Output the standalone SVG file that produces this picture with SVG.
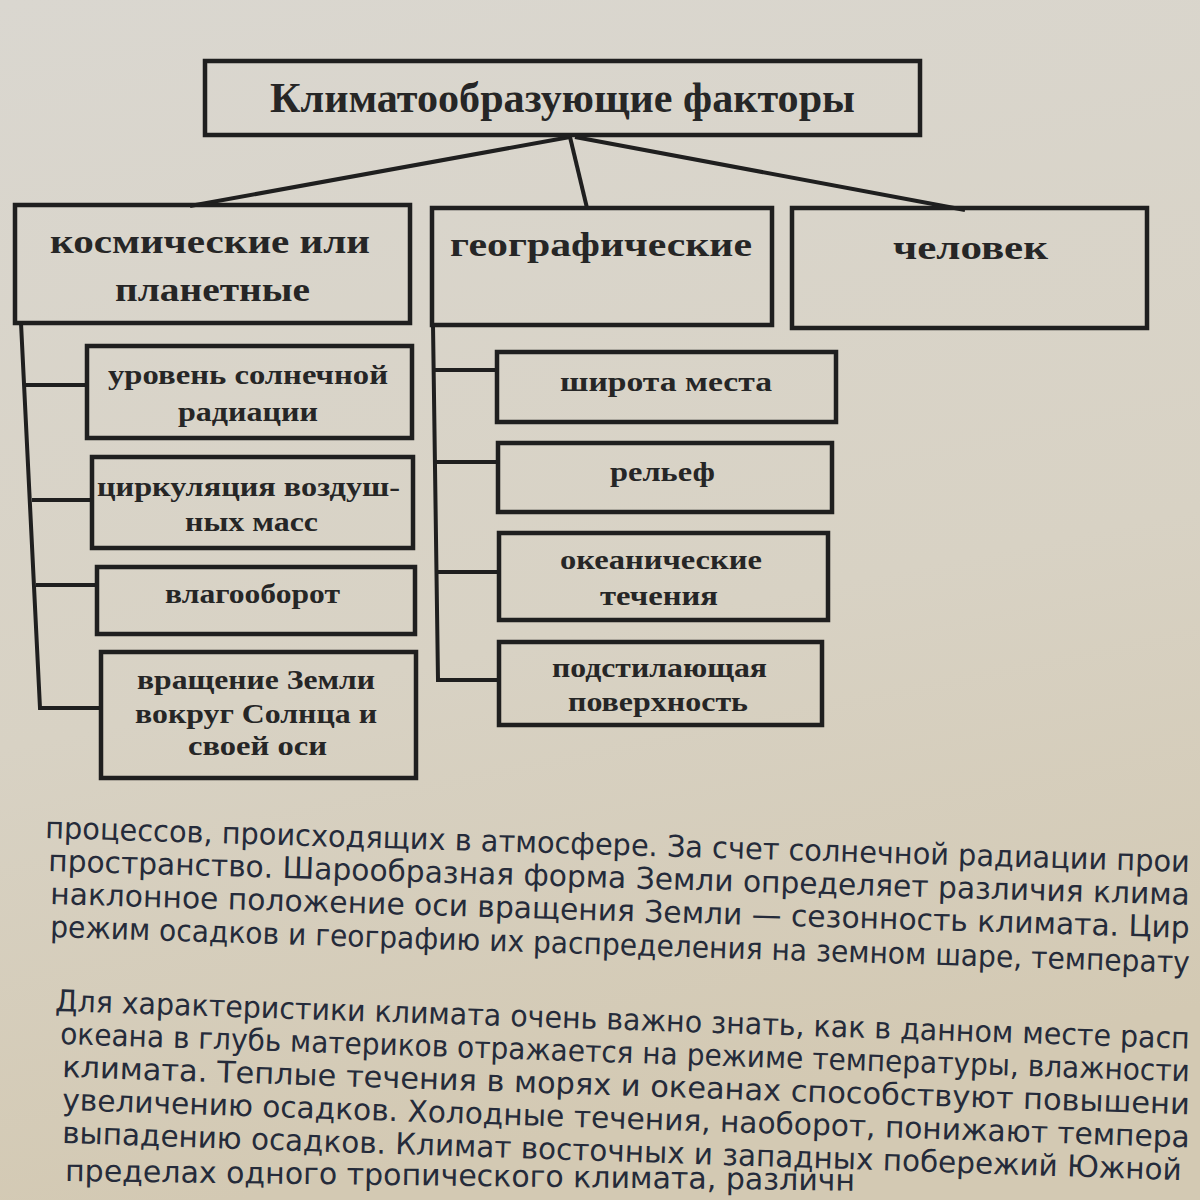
<svg xmlns="http://www.w3.org/2000/svg" width="1200" height="1200" viewBox="0 0 1200 1200">
<defs>
<linearGradient id="bg" x1="0" y1="0" x2="0.2" y2="1">
<stop offset="0" stop-color="#dad7d0"/>
<stop offset="0.6" stop-color="#d8d2c4"/>
<stop offset="1" stop-color="#d3c9b3"/>
</linearGradient>
<style>
.box{fill:none;stroke:#1f1f1f;stroke-width:4.5}
.ln{fill:none;stroke:#1f1f1f;stroke-width:4}
.t{font-family:"Liberation Serif","DejaVu Serif",serif;font-weight:bold;fill:#262626;text-anchor:start}
.p{font-family:"DejaVu Sans Condensed","DejaVu Sans","Noto Sans",sans-serif;font-stretch:condensed;fill:#252b3a;font-size:30px}
</style>
</defs>
<rect x="0" y="0" width="1200" height="1200" fill="url(#bg)"/>

<g id="connectors">
<line class="ln" x1="570" y1="137" x2="190" y2="206"/>
<line class="ln" x1="570" y1="137" x2="587" y2="208"/>
<line class="ln" x1="575" y1="137" x2="965" y2="210"/>
<polyline class="ln" points="21,323 40,708 102,708"/>
<line class="ln" x1="26" y1="385" x2="87" y2="385"/>
<line class="ln" x1="32" y1="500" x2="92" y2="500"/>
<line class="ln" x1="36" y1="585" x2="97" y2="585"/>
<polyline class="ln" points="433,325 438,680 499,680"/>
<line class="ln" x1="434" y1="370" x2="497" y2="370"/>
<line class="ln" x1="435" y1="462" x2="498" y2="462"/>
<line class="ln" x1="437" y1="572" x2="499" y2="572"/>
</g>

<g id="title">
<rect class="box" x="205" y="61" width="715" height="74"/>
<text class="t" x="270" y="112" font-size="42" textLength="585" lengthAdjust="spacingAndGlyphs">Климатообразующие факторы</text>
</g>

<g id="cosmic">
<rect class="box" x="15" y="205" width="395" height="118"/>
<text class="t" x="50" y="253" font-size="34" textLength="320" lengthAdjust="spacingAndGlyphs">космические или</text>
<text class="t" x="115" y="301" font-size="34" textLength="195" lengthAdjust="spacingAndGlyphs">планетные</text>
</g>

<g id="geo">
<rect class="box" x="432" y="208" width="340" height="117"/>
<text class="t" x="450" y="256" font-size="34" textLength="302" lengthAdjust="spacingAndGlyphs">географические</text>
</g>

<g id="human">
<rect class="box" x="792" y="208" width="355" height="120"/>
<text class="t" x="893" y="259" font-size="34" textLength="155" lengthAdjust="spacingAndGlyphs">человек</text>
</g>

<g id="solar">
<rect class="box" x="87" y="346" width="325" height="92"/>
<text class="t" x="108" y="384" font-size="27" textLength="280" lengthAdjust="spacingAndGlyphs">уровень солнечной</text>
<text class="t" x="178" y="421" font-size="27" textLength="140" lengthAdjust="spacingAndGlyphs">радиации</text>
</g>

<g id="circulation">
<rect class="box" x="92" y="457" width="321" height="91"/>
<text class="t" x="97" y="496" font-size="27" textLength="303" lengthAdjust="spacingAndGlyphs">циркуляция воздуш-</text>
<text class="t" x="185" y="531" font-size="27" textLength="133" lengthAdjust="spacingAndGlyphs">ных масс</text>
</g>

<g id="moisture">
<rect class="box" x="97" y="567" width="318" height="67"/>
<text class="t" x="165" y="603" font-size="27" textLength="175" lengthAdjust="spacingAndGlyphs">влагооборот</text>
</g>

<g id="rotation">
<rect class="box" x="101" y="652" width="315" height="126"/>
<text class="t" x="137" y="689" font-size="27" textLength="238" lengthAdjust="spacingAndGlyphs">вращение Земли</text>
<text class="t" x="135" y="723" font-size="27" textLength="242" lengthAdjust="spacingAndGlyphs">вокруг Солнца и</text>
<text class="t" x="188" y="755" font-size="27" textLength="139" lengthAdjust="spacingAndGlyphs">своей оси</text>
</g>

<g id="latitude">
<rect class="box" x="497" y="352" width="339" height="70"/>
<text class="t" x="560" y="391" font-size="27" textLength="212" lengthAdjust="spacingAndGlyphs">широта места</text>
</g>

<g id="relief">
<rect class="box" x="498" y="443" width="334" height="69"/>
<text class="t" x="610" y="481" font-size="27" textLength="105" lengthAdjust="spacingAndGlyphs">рельеф</text>
</g>

<g id="currents">
<rect class="box" x="499" y="533" width="329" height="87"/>
<text class="t" x="560" y="569" font-size="27" textLength="202" lengthAdjust="spacingAndGlyphs">океанические</text>
<text class="t" x="600" y="605" font-size="27" textLength="118" lengthAdjust="spacingAndGlyphs">течения</text>
</g>

<g id="surface">
<rect class="box" x="499" y="642" width="323" height="83"/>
<text class="t" x="552" y="677" font-size="27" textLength="215" lengthAdjust="spacingAndGlyphs">подстилающая</text>
<text class="t" x="568" y="711" font-size="27" textLength="180" lengthAdjust="spacingAndGlyphs">поверхность</text>
</g>

<g id="paragraph">
<text class="p" x="45" y="838" transform="rotate(1.7 45 838)" textLength="1145" lengthAdjust="spacingAndGlyphs">процессов, происходящих в атмосфере. За счет солнечной радиации прои</text>
<text class="p" x="48" y="871" transform="rotate(1.7 48 871)" textLength="1142" lengthAdjust="spacingAndGlyphs">пространство. Шарообразная форма Земли определяет различия клима</text>
<text class="p" x="50" y="904" transform="rotate(1.7 50 904)" textLength="1140" lengthAdjust="spacingAndGlyphs">наклонное положение оси вращения Земли — сезонность климата. Цир</text>
<text class="p" x="50" y="937" transform="rotate(1.8 50 937)" textLength="1140" lengthAdjust="spacingAndGlyphs">режим осадков и географию их распределения на земном шаре, температу</text>
<text class="p" x="55" y="1011" transform="rotate(1.9 55 1011)" textLength="1135" lengthAdjust="spacingAndGlyphs">Для характеристики климата очень важно знать, как в данном месте расп</text>
<text class="p" x="60" y="1044" transform="rotate(1.9 60 1044)" textLength="1130" lengthAdjust="spacingAndGlyphs">океана в глубь материков отражается на режиме температуры, влажности</text>
<text class="p" x="62" y="1077" transform="rotate(1.9 62 1077)" textLength="1128" lengthAdjust="spacingAndGlyphs">климата. Теплые течения в морях и океанах способствуют повышени</text>
<text class="p" x="62" y="1110" transform="rotate(1.9 62 1110)" textLength="1128" lengthAdjust="spacingAndGlyphs">увеличению осадков. Холодные течения, наоборот, понижают темпера</text>
<text class="p" x="62" y="1143" transform="rotate(1.9 62 1143)" textLength="1120" lengthAdjust="spacingAndGlyphs">выпадению осадков. Климат восточных и западных побережий Южной</text>
<text class="p" x="65" y="1181" transform="rotate(0.7 65 1181)" textLength="790" lengthAdjust="spacingAndGlyphs">пределах одного тропического климата, различн</text>
</g>
</svg>
